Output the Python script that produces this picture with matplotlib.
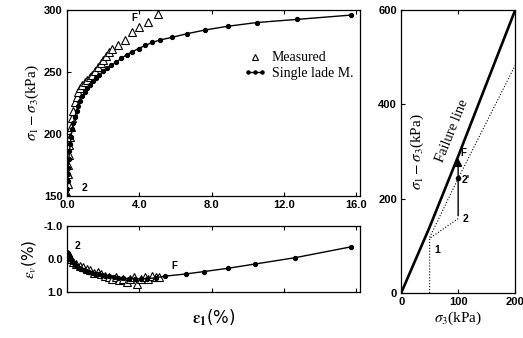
import matplotlib
matplotlib.use('Agg')
import matplotlib.pyplot as plt
from matplotlib.legend_handler import HandlerLine2D

plt.rcParams['mathtext.fontset'] = 'stix'

# measured deviator stress vs axial strain
meas_e1 = [0.02, 0.04, 0.06, 0.08, 0.11, 0.14, 0.18, 0.23, 0.29, 0.36, 0.44, 0.53,
           0.63, 0.74, 0.86, 0.99, 1.12, 1.26, 1.40, 1.55, 1.70, 1.86, 2.02, 2.18,
           2.34, 2.50, 2.85, 3.20, 3.60, 4.00, 4.50, 5.04]
meas_q = [152, 160, 168, 175, 183, 191, 198, 206, 213, 219, 226, 230,
          234, 237, 240, 242, 244, 246, 248, 251, 254, 257, 260, 263,
          266, 268.5, 272, 276, 282, 286.5, 290.6, 296.8]

# single lade model
mod_e1 = [0.0, 0.02, 0.04, 0.06, 0.08, 0.11, 0.14, 0.18, 0.23, 0.29, 0.36, 0.44,
          0.53, 0.63, 0.74, 0.86, 0.99, 1.13, 1.28, 1.44, 1.61, 1.80, 2.00, 2.22,
          2.46, 2.72, 3.00, 3.30, 3.62, 3.96, 4.33, 4.73, 5.17, 5.80, 6.65, 7.65,
          8.90, 10.50, 12.70, 15.70]
mod_q = [150, 156, 162, 168, 173, 180, 186, 192, 198, 204, 209, 214,
         219, 223, 227, 231, 234, 237, 240, 243, 245.5, 248, 250.5, 253,
         255.5, 258, 261, 264, 266.5, 269, 271.5, 274, 276, 278, 281, 284,
         287, 290, 292.5, 296]

# volumetric strain
mod_ev_e1 = [0.0, 0.02, 0.05, 0.08, 0.12, 0.17, 0.23, 0.30, 0.38, 0.47, 0.57, 0.68,
             0.80, 0.93, 1.07, 1.22, 1.38, 1.55, 1.73, 1.92, 2.12, 2.34, 2.58, 2.84,
             3.12, 3.42, 3.74, 4.08, 4.44, 4.90, 5.40, 6.60, 7.56, 8.90, 10.40,
             12.60, 15.70]
mod_ev = [0.0, -0.08, -0.15, -0.17, -0.12, -0.05, 0.02, 0.08, 0.13, 0.18, 0.22, 0.26,
          0.30, 0.33, 0.36, 0.39, 0.42, 0.44, 0.46, 0.48, 0.50, 0.52, 0.54, 0.56,
          0.58, 0.59, 0.60, 0.60, 0.59, 0.57, 0.52, 0.45, 0.38, 0.28, 0.15,
          -0.04, -0.37]
meas_ev_e1 = [0.03, 0.06, 0.10, 0.20, 0.35, 0.50, 0.70, 0.90, 1.10, 1.30, 1.50, 1.70,
              1.90, 2.10, 2.30, 2.50, 2.70, 2.90, 3.10, 3.30, 3.50, 3.70, 3.90, 4.10,
              4.30, 4.50, 4.70, 4.90, 5.10]
meas_ev = [0.0, -0.15, -0.1, 0.0, 0.08, 0.15, 0.2, 0.25, 0.3, 0.32, 0.42, 0.38,
           0.45, 0.5, 0.55, 0.6, 0.55, 0.65, 0.6, 0.7, 0.6, 0.55, 0.75, 0.6,
           0.55, 0.6, 0.5, 0.55, 0.55]

# stress path plot
fail_s3 = [0, 50, 100, 150, 200]
fail_q = [0, 140, 290, 445, 600]
path_s3 = [50, 50, 100]
path_q = [0, 116, 158]
path2_s3 = [50, 100, 200]
path2_q = [118, 243, 483]

tick_font = dict(family='Liberation Sans', weight='bold', size=8)

fig = plt.figure(figsize=(5.23, 3.38), dpi=100)
ax1 = fig.add_axes([0.128, 0.420, 0.560, 0.550])
ax2 = fig.add_axes([0.128, 0.136, 0.560, 0.195])
ax3 = fig.add_axes([0.767, 0.133, 0.218, 0.837])

# top: stress-strain
h_meas, = ax1.plot(meas_e1, meas_q, linestyle='none', marker='^', markersize=6,
                   markerfacecolor='white', markeredgecolor='black',
                   markeredgewidth=0.8, label='Measured')
h_mod, = ax1.plot(mod_e1, mod_q, color='black', linewidth=1, marker='o',
                  markersize=2.8, label='Single lade M.')
ax1.set_xlim(0, 16.2)
ax1.set_ylim(150, 300)
ax1.set_xticks([0, 4, 8, 12, 16])
ax1.set_xticklabels(['0.0', '4.0', '8.0', '12.0', '16.0'])
ax1.set_yticks([150, 200, 250, 300])
ax1.set_ylabel(r'$\sigma_1-\sigma_3$(kPa)', family='Liberation Serif', fontsize=11, labelpad=2)
ax1.text(3.55, 291, 'F', fontsize=7, weight='bold', family='Liberation Sans')
ax1.text(0.8, 154, '2', fontsize=7.5, weight='bold', family='Liberation Sans')
ax1.legend(loc='upper right', bbox_to_anchor=(1.01, 0.83), frameon=False,
           prop=dict(family='Liberation Serif', size=10), handlelength=1.6,
           handletextpad=0.4, labelspacing=0.2, borderpad=0.2, markerscale=0.8,
           handler_map={h_meas: HandlerLine2D(numpoints=1),
                        h_mod: HandlerLine2D(numpoints=3)})

# bottom: volumetric strain
ax2.plot(meas_ev_e1, meas_ev, linestyle='none', marker='^', markersize=5.5,
         markerfacecolor='white', markeredgecolor='black', markeredgewidth=0.8)
ax2.plot(mod_ev_e1, mod_ev, color='black', linewidth=1, marker='o', markersize=2.8)
ax2.set_xlim(0, 16.2)
ax2.set_ylim(1.0, -1.0)
ax2.set_xticks([0, 4, 8, 12, 16])
ax2.set_xticklabels([])
ax2.set_yticks([-1.0, 0.0, 1.0])
ax2.set_yticklabels(['-1.0', '0.0', '1.0'])
ax2.set_ylabel(r'$\varepsilon_v$(%)', fontsize=11, labelpad=4)
ax2.set_xlabel(r'$\mathbf{\varepsilon_1}$(%)', fontsize=12, labelpad=8)
ax2.text(0.45, -0.3, '2', fontsize=7.5, weight='bold', family='Liberation Sans')
ax2.text(5.8, 0.3, 'F', fontsize=7, weight='bold', family='Liberation Sans')

# right: stress path
ax3.plot(fail_s3, fail_q, color='black', linewidth=1.9)
ax3.plot(path_s3, path_q, color='black', linewidth=0.8, linestyle=':')
ax3.plot(path2_s3, path2_q, color='black', linewidth=0.8, linestyle=':')
ax3.annotate('', xy=(100, 292), xytext=(100, 158),
             arrowprops=dict(arrowstyle='-|>', color='black', lw=1,
                             mutation_scale=12))
ax3.plot([100], [243], 'ko', markersize=3)
ax3.set_xlim(0, 200)
ax3.set_ylim(0, 600)
ax3.set_xticks([0, 100, 200])
ax3.set_yticks([0, 200, 400, 600])
ax3.set_xlabel(r'$\sigma_3$(kPa)', family='Liberation Serif', fontsize=11, labelpad=2)
ax3.text(28, 300, r'$\sigma_1-\sigma_3$(kPa)', family='Liberation Serif', fontsize=11,
         rotation=90, ha='center', va='center')
ax3.text(90, 345, 'Failure line', family='Liberation Serif', fontsize=10.5,
         rotation=68, ha='center', va='center')
ax3.text(104, 290, 'F', fontsize=7, weight='bold', family='Liberation Sans')
ax3.text(106, 233, "2'", fontsize=7.5, weight='bold', family='Liberation Sans')
ax3.text(108, 150, '2', fontsize=7.5, weight='bold', family='Liberation Sans')
ax3.text(58, 85, '1', fontsize=7.5, weight='bold', family='Liberation Sans')

for ax in (ax1, ax2, ax3):
    ax.tick_params(direction='in', length=3, width=0.8, pad=3, top=True)
    for lab in ax.get_xticklabels() + ax.get_yticklabels():
        lab.set_fontproperties(tick_font)
    for sp in ax.spines.values():
        sp.set_linewidth(0.9)

fig.savefig('out.png', dpi=100)
